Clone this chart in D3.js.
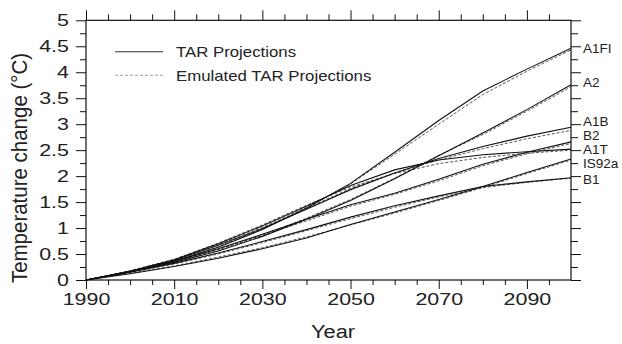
<!DOCTYPE html>
<html>
<head>
<meta charset="utf-8">
<script src="https://cdn.jsdelivr.net/npm/d3@7"></script>
<style>
  body { margin: 0; background: #fff; }
  svg { display: block; font-family: "Liberation Sans", Arial, Helvetica, sans-serif; }
</style>
</head>
<body>
<div id="chart"></div>
<script>
// Datos (°C respecto de 1990)
const YEARS = [1990, 2000, 2010, 2020, 2030, 2040, 2050, 2060, 2070, 2080, 2090, 2100];
const SCENARIOS = ["A1FI", "A2", "A1B", "B2", "A1T", "IS92a", "B1"];

// Proyecciones TAR (línea continua)
const TAR_A1FI  = [0, 0.16, 0.36, 0.63, 0.97, 1.38, 1.86, 2.46, 3.07, 3.64, 4.06, 4.46];
const TAR_A2    = [0, 0.16, 0.34, 0.56, 0.84, 1.17, 1.53, 1.95, 2.39, 2.83, 3.28, 3.76];
const TAR_A1B   = [0, 0.17, 0.38, 0.67, 0.99, 1.36, 1.74, 2.06, 2.34, 2.57, 2.77, 2.94];
const TAR_B2    = [0, 0.16, 0.36, 0.60, 0.88, 1.17, 1.45, 1.67, 1.94, 2.23, 2.46, 2.66];
const TAR_A1T   = [0, 0.17, 0.39, 0.70, 1.04, 1.42, 1.82, 2.12, 2.31, 2.41, 2.47, 2.52];
const TAR_IS92A = [0, 0.12, 0.26, 0.42, 0.60, 0.81, 1.07, 1.31, 1.55, 1.80, 2.07, 2.33];
const TAR_B1    = [0, 0.15, 0.32, 0.52, 0.74, 0.97, 1.21, 1.43, 1.62, 1.80, 1.89, 1.97];

// Proyecciones emuladas (línea discontinua)
const EMU_A1FI  = [0, 0.17, 0.37, 0.64, 0.98, 1.40, 1.85, 2.42, 3.00, 3.57, 4.02, 4.43];
const EMU_A2    = [0, 0.16, 0.35, 0.58, 0.86, 1.19, 1.55, 1.96, 2.40, 2.80, 3.25, 3.72];
const EMU_A1B   = [0, 0.17, 0.39, 0.68, 1.01, 1.38, 1.76, 2.06, 2.31, 2.53, 2.72, 2.88];
const EMU_B2    = [0, 0.16, 0.35, 0.59, 0.86, 1.14, 1.42, 1.65, 1.91, 2.20, 2.43, 2.63];
const EMU_A1T   = [0, 0.18, 0.40, 0.71, 1.06, 1.44, 1.79, 2.05, 2.24, 2.36, 2.44, 2.50];
const EMU_IS92A = [0, 0.13, 0.27, 0.44, 0.62, 0.83, 1.06, 1.29, 1.53, 1.78, 2.05, 2.31];
const EMU_B1    = [0, 0.15, 0.31, 0.50, 0.72, 0.95, 1.18, 1.40, 1.60, 1.78, 1.88, 1.96];

// Altura (°C) de cada etiqueta en el eje derecho
const LABEL_AT = [4.47, 3.80, 3.05, 2.78, 2.51, 2.24, 1.95];

const X_MAJOR = [1990, 2010, 2030, 2050, 2070, 2090];
const X_MINOR = d3.range(1995, 2100, 5).filter(d => !X_MAJOR.includes(d));
const Y_MAJOR = [0, 0.5, 1, 1.5, 2, 2.5, 3, 3.5, 4, 4.5, 5];
const Y_MINOR = [0.25, 0.75, 1.25, 1.75, 2.25, 2.75, 3.25, 3.75, 4.25, 4.75];

const TAR = [TAR_A1FI, TAR_A2, TAR_A1B, TAR_B2, TAR_A1T, TAR_IS92A, TAR_B1];
const EMU = [EMU_A1FI, EMU_A2, EMU_A1B, EMU_B2, EMU_A1T, EMU_IS92A, EMU_B1];

// Layout
const W = 622, H = 344;
const L = 86, R = 571, T = 20.3, B = 280;
const SX = 1.3; // ensanchado de las cifras de los ejes

const svg = d3.select("#chart").append("svg").attr("width", W).attr("height", H);

const x = d3.scaleLinear().domain([1990, 2100]).range([L, R]);
const y = d3.scaleLinear().domain([0, 5]).range([B, T]);

const line = d3.line().x((d, i) => x(YEARS[i])).y(d => y(d));

// texto estirado en horizontal (la figura original está algo ensanchada)
function stext(sel, px, py, str, size, sx, anchor) {
  return sel.append("text")
    .attr("transform", `translate(${px},${py}) scale(${sx},1)`)
    .attr("font-size", size).attr("text-anchor", anchor || "start")
    .attr("fill", "#222").text(str);
}

const noDomain = g => g.select(".domain").remove();

// Ejes: marcas menores y mayores
svg.append("g").attr("transform", `translate(${L},0)`)
  .call(d3.axisLeft(y).tickValues(Y_MINOR).tickSize(6).tickFormat("")).call(noDomain);
const yAx = svg.append("g").attr("transform", `translate(${L},0)`)
  .call(d3.axisLeft(y).tickValues(Y_MAJOR).tickSize(10).tickFormat(d => String(d))).call(noDomain);
yAx.selectAll("text").attr("font-size", 16.5).attr("fill", "#222")
  .attr("x", -17 / SX).attr("transform", `scale(${SX},1)`);

svg.append("g").attr("transform", `translate(${R},0)`)
  .call(d3.axisRight(y).tickValues(Y_MINOR).tickSize(7).tickFormat("")).call(noDomain);
svg.append("g").attr("transform", `translate(${R},0)`)
  .call(d3.axisRight(y).tickValues(Y_MAJOR).tickSize(10).tickFormat("")).call(noDomain);

svg.append("g").attr("transform", `translate(0,${T})`)
  .call(d3.axisTop(x).tickValues(X_MINOR).tickSize(6).tickFormat("")).call(noDomain);
svg.append("g").attr("transform", `translate(0,${T})`)
  .call(d3.axisTop(x).tickValues(X_MAJOR).tickSize(10).tickFormat("")).call(noDomain);

svg.append("g").attr("transform", `translate(0,${B})`)
  .call(d3.axisBottom(x).tickValues(X_MINOR).tickSize(5).tickFormat("")).call(noDomain);
const xAx = svg.append("g").attr("transform", `translate(0,${B})`)
  .call(d3.axisBottom(x).tickValues(X_MAJOR).tickSize(9).tickPadding(4.5).tickFormat(d3.format("d"))).call(noDomain);
xAx.selectAll("text").attr("font-size", 16.5).attr("fill", "#222").attr("transform", `scale(${SX},1)`);

svg.selectAll(".tick line").attr("stroke", "#111");

// Marco
svg.append("rect").attr("x", L).attr("y", T).attr("width", R - L).attr("height", B - T)
  .attr("fill", "none").attr("stroke", "#111").attr("stroke-width", 1.2);

// Series
const plot = svg.append("g");
plot.selectAll("path.emu").data(EMU).join("path").attr("class", "emu")
  .attr("d", line).attr("fill", "none")
  .attr("stroke", "#444").attr("stroke-width", 0.9).attr("stroke-dasharray", "3,1.8");
plot.selectAll("path.tar").data(TAR).join("path").attr("class", "tar")
  .attr("d", line).attr("fill", "none")
  .attr("stroke", "#111").attr("stroke-width", 1.1);

// Etiquetas de escenarios
SCENARIOS.forEach((s, i) => {
  stext(svg, R + 12, y(LABEL_AT[i]) + 4.8, s, 13.5, 1, "start");
});

// Leyenda
const leg = svg.append("g");
leg.append("line").attr("x1", 115).attr("x2", 163).attr("y1", 51.7).attr("y2", 51.7)
  .attr("stroke", "#333").attr("stroke-width", 1.1);
leg.append("line").attr("x1", 115).attr("x2", 163).attr("y1", 75.3).attr("y2", 75.3)
  .attr("stroke", "#999").attr("stroke-width", 0.9).attr("stroke-dasharray", "3,2");
stext(leg, 176, 57, "TAR Projections", 14, 1.2);
stext(leg, 176, 80.5, "Emulated TAR Projections", 14, 1.2);

// Títulos de ejes
stext(svg, 333, 338, "Year", 19, 1.15, "middle");
svg.append("text")
  .attr("transform", `translate(27,168) scale(1.1,1) rotate(-90)`)
  .attr("font-size", 20.5).attr("text-anchor", "middle").attr("fill", "#222")
  .text("Temperature change (°C)");
</script>
</body>
</html>
